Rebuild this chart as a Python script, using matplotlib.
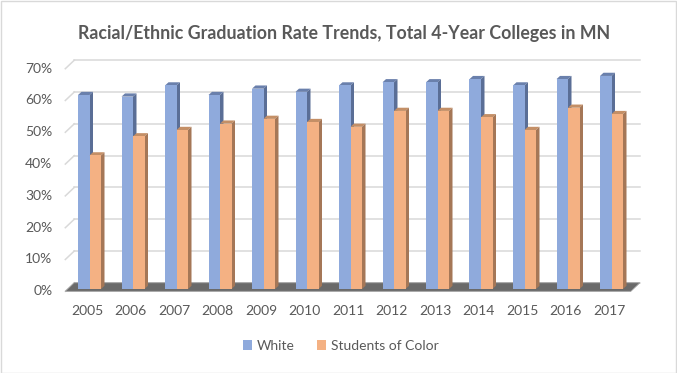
import matplotlib
matplotlib.use('Agg')
import matplotlib.pyplot as plt
from matplotlib.patches import Polygon, Rectangle

# values (percent)
years = ['2005', '2006', '2007', '2008', '2009', '2010', '2011',
         '2012', '2013', '2014', '2015', '2016', '2017']
white = [61, 60.5, 64, 61, 63, 62, 64, 65, 65, 66, 64, 66, 67]
students_of_color = [42, 48, 50, 52, 53.5, 52.5, 51, 56, 56, 54, 50, 57, 55]
series_names = ['White', 'Students of Color']
yticks = [0, 10, 20, 30, 40, 50, 60, 70]
ytick_labels = ['0%', '10%', '20%', '30%', '40%', '50%', '60%', '70%']

title = 'Racial/Ethnic Graduation Rate Trends, Total 4-Year Colleges in MN'
txt = '#595959'
grid_c = '#D9D9D9'
blue = ['#8FAADC', '#6A80AC', '#5A6E96']      # front, top, side
orange = ['#F4B183', '#C48F66', '#A57757']

plt.rcParams['font.family'] = ['Lato', 'DejaVu Sans']

W, H = 677, 373
fig = plt.figure(figsize=(W / 100, H / 100), dpi=100)
ax = fig.add_axes([0, 0, 1, 1])

# pixel scale of the fake 3d box
px_x = 43.5     # px per category
px_y = 3.18     # px per percent
x0_px, y0_px = 89.5, 289
ax.set_xlim(-x0_px / px_x, (W - x0_px) / px_x)
ax.set_ylim(-(H - y0_px) / px_y, y0_px / px_y)
ax.axis('off')

n = len(years)
t_bar = 0.27


def shift(t):
    # depth offset, t=0 front edge of floor, t=1 back wall
    return (t - t_bar) * 9 / px_x, (t - t_bar) * 8.5 / px_y


fx, fy = shift(0)
bx, by = shift(1)
left, right = -0.5, n - 0.5

# back wall gridlines and the slanted ticks on the left
for v, lab in zip(yticks, ytick_labels):
    ax.plot([left + bx, right + bx], [v + by, v + by], color=grid_c, lw=1.1, zorder=1)
    ax.plot([left + fx, left + bx], [v + fy, v + by], color=grid_c, lw=1.1, zorder=1)
    ax.text(left + fx - 13 / px_x, v + fy, lab, ha='right', va='center',
            fontsize=10, color=txt)

# floor
floor = Polygon([(left + fx, fy), (right + fx, fy), (right + bx, by), (left + bx, by)],
                closed=True, facecolor='#6A6A6A', edgecolor='#9A9A9A', lw=0.6, zorder=2)
ax.add_patch(floor)

bw = 11.5 / px_x
bdx, bdy = 3.5 / px_x, 3.2 / px_y
pos = list(range(n))

bars = []
for k, (vals, cols) in enumerate([(white, blue), (students_of_color, orange)]):
    xs = [p - bw + k * bw for p in pos]
    for x, v in zip(xs, vals):
        top = Polygon([(x, v), (x + bw, v), (x + bw + bdx, v + bdy), (x + bdx, v + bdy)],
                      closed=True, facecolor=cols[1], edgecolor='none', zorder=3 + 2 * k)
        side = Polygon([(x + bw, 0), (x + bw + bdx, bdy), (x + bw + bdx, v + bdy), (x + bw, v)],
                       closed=True, facecolor=cols[2], edgecolor='none', zorder=3 + 2 * k)
        ax.add_patch(top)
        ax.add_patch(side)
    b = ax.bar(xs, vals, bw, align='edge', color=cols[0], edgecolor='none',
               zorder=4 + 2 * k, label=series_names[k])
    bars.append(b)

for p, y in zip(pos, years):
    ax.text(p + fx, -6.8, y, ha='center', va='center', fontsize=10, color=txt)

fig.text(344 / W, 1 - 34 / H, title, ha='center', va='center', fontsize=12.8,
         fontweight='bold', color=txt)

fig.legend(handles=bars, labels=series_names, loc='center', bbox_to_anchor=(341 / W, 1 - 346 / H),
           ncol=2, frameon=False, handlelength=0.65, handleheight=0.65, handletextpad=0.35,
           columnspacing=1.6, fontsize=10, labelcolor=txt)

fig.patches.append(Rectangle((0.5 / W, 0.5 / H), 1 - 1.5 / W, 1 - 1.5 / H, transform=fig.transFigure,
                             fill=False, edgecolor=grid_c, lw=1))

fig.savefig('out.png', dpi=100)
